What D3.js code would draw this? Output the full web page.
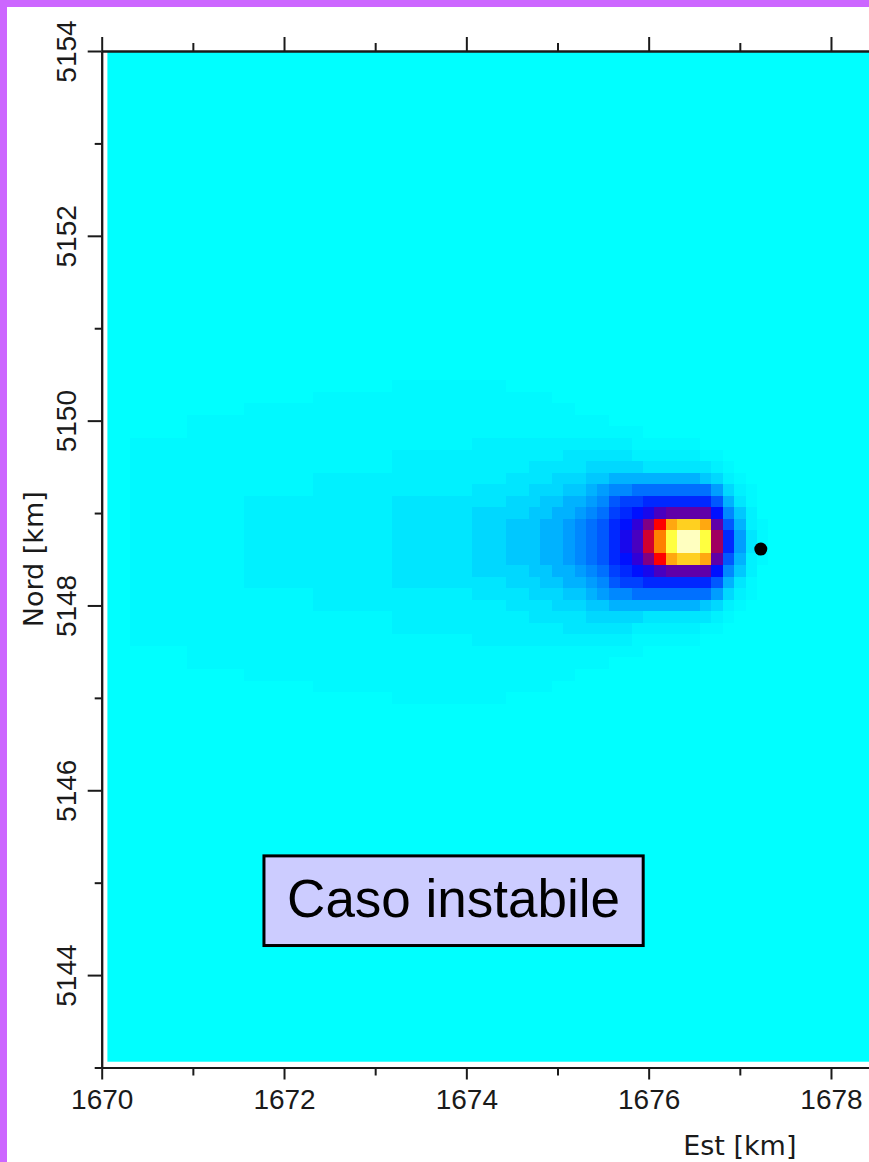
<!DOCTYPE html>
<html>
<head>
<meta charset="utf-8">
<script src="https://cdn.jsdelivr.net/npm/d3@7/dist/d3.min.js"></script>
<style>
  html, body { margin: 0; padding: 0; background: #ffffff; }
  svg { display: block; }
</style>
</head>
<body>
<svg id="chart" width="869" height="1162"></svg>
<script>
// Ground-level concentration map, unstable atmosphere case.
// Grid cells are 0.125 km wide; levels index into the colour ramp below.
const cellSize = 0.125;
const xDomain = [1670, 1678.42];
const yDomain = [5143, 5154];
const xMajorTicks = [1670, 1672, 1674, 1676, 1678];
const xMinorTicks = [1671, 1673, 1675, 1677];
const yMajorTicks = [5144, 5146, 5148, 5150, 5152, 5154];
const yMinorTicks = [5143, 5145, 5147, 5149, 5151, 5153];

// Emission source (stack position)
const source = { x: 1677.23, y: 5148.61 };

// Plume block: centre of the first column and of the top row
const plumeCol0 = 1670.375;
const plumeRowTop = 5150.375;
// Concentration level per cell, north to south, west to east (base-36 digits)
const plumeRows = [
  "00000000000000000000000111111111100" + "000000000000000000000",
  "00000000000000001111111111111111111" + "110000000000000000000",
  "00000000001111111111111111111111111" + "111100000000000000000",
  "00000111111111111111111111111111111" + "111111100000000000000",
  "00000111111111111111111111111111111" + "111111111100000000000",
  "11111111111111111111111111111122222" + "222222222111111000000",
  "11111111111111111111111222222222222" + "222333333222222110000",
  "11111111111111111111111222222222222" + "333334444433333321000",
  "11111111111111112222222222222222233" + "334445566666666542100",
  "11111111111111112222222222222233333" + "444556788999999974210",
  "11111111112222222222222333333333344" + "4556678abbcccccca6310",
  "11111111112222222222222333333344444" + "5566789bcdeghhhhd8520",
  "11111111112222222222222333333344455" + "566789acdfiloppoha621",
  "11111111112222222222222333333344455" + "566789acegknqssqjc731",
  "11111111112222222222222333333344455" + "566789acegknqssqjc731",
  "11111111112222222222222333333344455" + "566789acdfiloppoha621",
  "11111111112222222222222333333344444" + "5566789bcdeghhhhd8520",
  "11111111112222222222222333333333344" + "4556678abbcccccca6310",
  "11111111111111112222222222222233333" + "444556788999999974210",
  "11111111111111112222222222222222233" + "334445566666666542100",
  "11111111111111111111111222222222222" + "333334444433333321000",
  "11111111111111111111111222222222222" + "222333333222222110000",
  "11111111111111111111111111111122222" + "222222222111111000000",
  "00000111111111111111111111111111111" + "111111111100000000000",
  "00000111111111111111111111111111111" + "111111100000000000000",
  "00000000001111111111111111111111111" + "111100000000000000000",
  "00000000000000001111111111111111111" + "110000000000000000000",
  "00000000000000000000000111111111100" + "000000000000000000000"
];

// Colour ramp: cyan -> blue -> purple -> red -> yellow -> pale yellow
const levelStops  = [0, 1, 2, 3, 4, 5, 6, 8, 10, 13, 15, 17, 19, 21, 23, 25, 26, 28];
const levelColors = ["#00ffff", "#00f9ff", "#00f1ff", "#00e6ff", "#00d8ff", "#00c8ff",
                     "#00b2ff", "#0088ff", "#0058ff", "#0010ff", "#3000d8", "#6000a8",
                     "#a00060", "#ff0000", "#ff8000", "#ffd020", "#ffff40", "#ffffc0"];

const labelText = "Caso instabile";
const labelBox = { x0: 1671.78, x1: 1675.94, y0: 5145.29, y1: 5144.32 };

const svg = d3.select("#chart");
const W = 869, H = 1162;

const x = d3.scaleLinear().domain(xDomain).range([101.7, 101.7 + 91.16 * (xDomain[1] - xDomain[0])]);
const y = d3.scaleLinear().domain(yDomain).range([1067.5, 51]);
const color = d3.scaleLinear().domain(levelStops).range(levelColors).interpolate(d3.interpolateRgb).clamp(true);

// Frame strips
svg.append("rect").attr("x", 0).attr("y", 0).attr("width", W).attr("height", 7).attr("fill", "#cc66ff");
svg.append("rect").attr("x", 0).attr("y", 0).attr("width", 7).attr("height", H).attr("fill", "#cc66ff");

// Field
const clip = svg.append("clipPath").attr("id", "plot-clip");
clip.append("rect")
  .attr("x", x(xDomain[0])).attr("y", y(yDomain[1]))
  .attr("width", W - x(xDomain[0])).attr("height", y(yDomain[0]) - y(yDomain[1]));

const field = svg.append("g").attr("clip-path", "url(#plot-clip)");
field.append("rect")
  .attr("x", x(xDomain[0] + cellSize / 2))
  .attr("y", y(yDomain[1]))
  .attr("width", W - x(xDomain[0] + cellSize / 2))
  .attr("height", y(yDomain[0] + cellSize / 2) - y(yDomain[1]))
  .attr("fill", color(0));

const cells = [];
plumeRows.forEach((row, r) => {
  for (let c = 0; c < row.length; c++) {
    const level = parseInt(row[c], 36);
    if (level > 0) {
      cells.push({ cx: plumeCol0 + c * cellSize, cy: plumeRowTop - r * cellSize, level });
    }
  }
});

field.selectAll("rect.cell").data(cells).join("rect")
  .attr("class", "cell")
  .attr("x", d => Math.round(x(d.cx - cellSize / 2)))
  .attr("y", d => Math.round(y(d.cy + cellSize / 2)))
  .attr("width", d => Math.round(x(d.cx + cellSize / 2)) - Math.round(x(d.cx - cellSize / 2)))
  .attr("height", d => Math.round(y(d.cy - cellSize / 2)) - Math.round(y(d.cy + cellSize / 2)))
  .attr("fill", d => color(d.level))
  .attr("shape-rendering", "crispEdges");

// Source marker
svg.append("circle")
  .attr("cx", x(source.x)).attr("cy", y(source.y)).attr("r", 6.5)
  .attr("fill", "#000");

// Axes
const axisColor = "#1a1a1a";
function styleAxis(g) {
  g.select(".domain").attr("stroke", axisColor).attr("stroke-width", 2);
  g.selectAll(".tick line").attr("stroke", axisColor).attr("stroke-width", 2);
}
const tickFont = "'Liberation Sans', Arial, sans-serif";

// bottom
svg.append("g").attr("transform", `translate(0,${y(yDomain[0])})`)
  .call(d3.axisBottom(x).tickValues(xMinorTicks).tickSize(8).tickSizeOuter(0).tickFormat(""))
  .call(styleAxis);
const xb = svg.append("g").attr("transform", `translate(0,${y(yDomain[0])})`)
  .call(d3.axisBottom(x).tickValues(xMajorTicks).tickSize(12).tickSizeOuter(0).tickFormat(d3.format("d")))
  .call(styleAxis);
xb.selectAll(".tick text")
  .attr("y", 41.5).attr("dy", 0)
  .attr("font-family", tickFont).attr("font-size", 28).attr("fill", "#1a1a1a");

// top
svg.append("g").attr("transform", `translate(0,${y(yDomain[1])})`)
  .call(d3.axisTop(x).tickValues(xMinorTicks).tickSize(8).tickSizeOuter(0).tickFormat(""))
  .call(styleAxis);
svg.append("g").attr("transform", `translate(0,${y(yDomain[1])})`)
  .call(d3.axisTop(x).tickValues(xMajorTicks).tickSize(14).tickSizeOuter(0).tickFormat(""))
  .call(styleAxis);

// left
svg.append("g").attr("transform", `translate(${x(xDomain[0])},0)`)
  .call(d3.axisLeft(y).tickValues(yMinorTicks).tickSize(7).tickSizeOuter(0).tickFormat(""))
  .call(styleAxis);
const yl = svg.append("g").attr("transform", `translate(${x(xDomain[0])},0)`)
  .call(d3.axisLeft(y).tickValues(yMajorTicks).tickSize(14).tickSizeOuter(0).tickFormat(d3.format("d")))
  .call(styleAxis);
yl.selectAll(".tick text")
  .attr("transform", "rotate(-90)")
  .attr("x", 0).attr("y", -26).attr("dy", 0)
  .attr("text-anchor", "middle")
  .attr("font-family", tickFont).attr("font-size", 28).attr("fill", "#1a1a1a");

// Axis titles
const titleFont = "'DejaVu Sans', sans-serif";
svg.append("text")
  .attr("x", x(1677.0)).attr("y", 1155)
  .attr("text-anchor", "middle")
  .attr("font-family", titleFont).attr("font-size", 27).attr("fill", "#1a1a1a")
  .text("Est [km]");
svg.append("text")
  .attr("transform", `translate(43,${y(5148.5)}) rotate(-90)`)
  .attr("text-anchor", "middle")
  .attr("font-family", titleFont).attr("font-size", 27).attr("fill", "#1a1a1a")
  .text("Nord [km]");

// Case label
const bx0 = x(labelBox.x0), bx1 = x(labelBox.x1), by0 = y(labelBox.y0), by1 = y(labelBox.y1);
svg.append("rect")
  .attr("x", bx0).attr("y", by0).attr("width", bx1 - bx0).attr("height", by1 - by0)
  .attr("fill", "#ccccff").attr("stroke", "#000").attr("stroke-width", 3);
svg.append("text")
  .attr("x", (bx0 + bx1) / 2).attr("y", by0 + 61)
  .attr("text-anchor", "middle")
  .attr("font-family", "'Liberation Sans', Arial, sans-serif").attr("font-size", 53).attr("fill", "#000")
  .text(labelText);
</script>
</body>
</html>
